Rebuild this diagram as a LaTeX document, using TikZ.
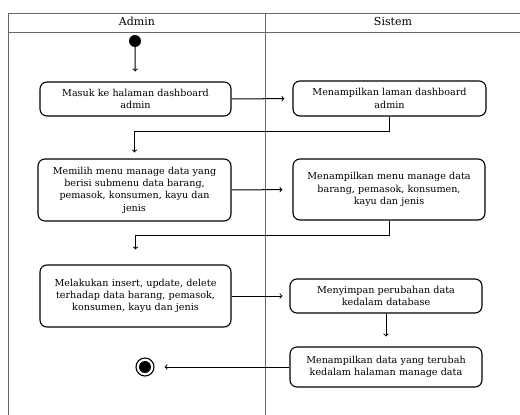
\documentclass[tikz,border=0pt]{standalone}
\usepackage{fontspec}
\setmainfont{DejaVu Serif}
\usetikzlibrary{positioning}

\begin{document}
\begin{tikzpicture}[x=1pt,y=-1pt,
  lane/.style={draw=black!60, line width=0.7pt},
  act/.style={draw, line width=1.1pt, rounded corners=7pt, align=center,
    text width=180pt, inner sep=0pt, font=\fontsize{9.6}{12.3}\selectfont},
  flow/.style={->, line width=1pt, shorten >=8pt},
  startnode/.style={circle, fill=black, minimum size=12pt, inner sep=0pt},
  endnode/.style={circle, draw, line width=1.1pt, minimum size=18pt, inner sep=0pt,
    path picture={\fill (path picture bounding box.center) circle (6pt);}}]
\useasboundingbox (0,0) rectangle (520,415);
% swimlanes
\draw[lane] (520,13) -- (8,13) -- (8,415);
\draw[lane] (8,32) -- (520,32);
\draw[lane] (265,13) -- (265,415);
\node[font=\fontsize{11}{13}\selectfont] (hadmin) at (137,21) {Admin};
\node[font=\fontsize{11}{13}\selectfont] (hsistem) at (393,21) {Sistem};

% aktivitas
\node[startnode] (start) at (135,41) {};
\node[act, minimum width=191pt, minimum height=34pt] (masuk) at (135.5,99)
  {Masuk ke halaman dashboard\\admin};
\node[act, minimum width=193pt, minimum height=35pt] (tampil) at (389.5,98.5)
  {Menampilkan laman dashboard\\admin};
\node[act, minimum width=193pt, minimum height=62pt] (pilih) at (134.5,190)
  {Memilih menu manage data yang\\berisi submenu data barang,\\pemasok, konsumen, kayu dan\\jenis};
\node[act, minimum width=192pt, minimum height=61pt] (menu) at (389,189.5)
  {Menampilkan menu manage data\\barang, pemasok, konsumen,\\kayu dan jenis};
\node[act, minimum width=191pt, minimum height=62pt] (ubah) at (135.5,296)
  {Melakukan insert, update, delete\\terhadap data barang, pemasok,\\konsumen, kayu dan jenis};
\node[act, minimum width=192pt, minimum height=34pt] (simpan) at (386,296)
  {Menyimpan perubahan data\\kedalam database};
\node[act, minimum width=192pt, minimum height=40pt] (hasil) at (386,367)
  {Menampilkan data yang terubah\\kedalam halaman manage data};
\node[endnode] (end) at (145,367) {};

% alur
\draw[flow, shorten >=10pt] (start) -- (masuk);
\draw[flow] (masuk) -- (tampil);
\draw[flow, shorten >=6pt] (tampil.south) -- ++(0,15) -| (pilih.north);
\draw[flow, shorten >=10pt] (pilih) -- (menu);
\draw[flow, shorten >=15pt] (menu.south) -- ++(0,15) -| (ubah.north);
\draw[flow, shorten >=7pt] (ubah) -- (simpan);
\draw[flow, shorten >=10pt] (simpan) -- (hasil);
\draw[flow, shorten >=10pt] (hasil) -- (end);
\end{tikzpicture}
\end{document}
